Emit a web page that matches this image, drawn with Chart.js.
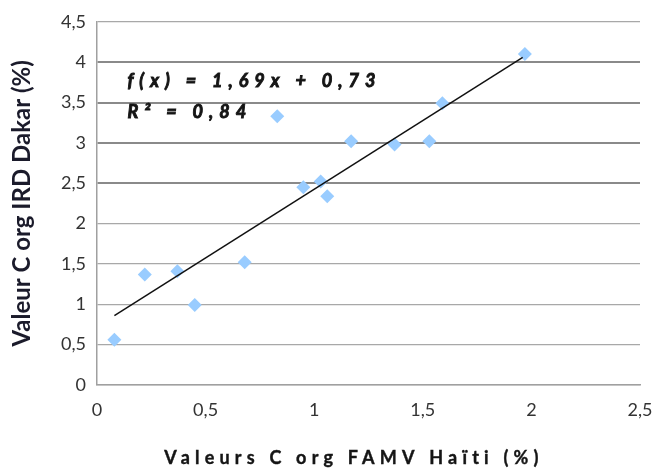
<!DOCTYPE html>
<html lang="fr">
<head>
<meta charset="utf-8">
<title>Valeurs C org FAMV Haïti / IRD Dakar</title>
<script src="https://cdn.jsdelivr.net/npm/chart.js"></script>
<style>
	body { margin: 0; background: #fff; }
</style>
</head>
<body>
<canvas id="chart" width="654" height="470"></canvas>
<script>
// values
const xValues = [0.08, 0.22, 0.37, 0.45, 0.68, 0.83, 0.95, 1.03, 1.06, 1.17, 1.37, 1.53, 1.59, 1.97];
const yValues = [0.56, 1.37, 1.41, 0.99, 1.52, 3.33, 2.45, 2.52, 2.34, 3.02, 2.98, 3.02, 3.49, 4.10];
// trend line ends, as drawn
const trendX = [0.08, 1.96];
const trendY = [0.86, 4.06];
const xTicks = [0, 0.5, 1, 1.5, 2, 2.5];
const yTicks = [0, 0.5, 1, 1.5, 2, 2.5, 3, 3.5, 4, 4.5];
const equationLines = ["f(x) = 1,69x + 0,73", "R² = 0,84"];
const xTitle = "Valeurs C org FAMV Haïti (%)";
const yTitle = "Valeur C org IRD Dakar (%)";

const comma = v => String(v).replace(".", ",");

const textPlugin = {
	id: "texts",
	afterDraw(chart) {
		const ctx = chart.ctx, xs = chart.scales.x, ys = chart.scales.y;
		ctx.save();
		ctx.fillStyle = "#151515";
		ctx.strokeStyle = "#151515";
		ctx.lineWidth = 0.9;
		ctx.textBaseline = "middle";
		ctx.textAlign = "left";
		ctx.letterSpacing = "6px";
		ctx.font = "italic bold 18px Lato";
		// equation of the trend line, a little heavier like the original
		equationLines.forEach((line, i) => {
			const px = xs.getPixelForValue(0.14);
			const py = ys.getPixelForValue(i == 0 ? 3.77 : 3.38);
			ctx.fillText(line, px, py);
			ctx.strokeText(line, px, py);
		});
		ctx.letterSpacing = "5.2px";
		ctx.font = "bold 18px Lato";
		ctx.textAlign = "center";
		ctx.lineWidth = 0.4;
		ctx.fillText(xTitle, 354, 458);
		ctx.strokeText(xTitle, 354, 458);
		ctx.restore();
	}
};

new Chart(document.getElementById("chart"), {
	type: "scatter",
	data: {
		datasets: [{
			label: "Mesures",
			data: xValues.map((x, i) => ({ x: x, y: yValues[i] })),
			pointStyle: "rectRot",
			pointRadius: 7,
			backgroundColor: "#99ccff",
			borderWidth: 0,
			order: 1
		}, {
			type: "line",
			label: "Tendance",
			data: trendX.map((x, i) => ({ x: x, y: trendY[i] })),
			borderColor: "#111",
			borderWidth: 1.5,
			pointRadius: 0,
			order: 0
		}]
	},
	options: {
		responsive: false,
		animation: false,
		layout: { padding: { top: 21, right: 14, left: 0, bottom: 0 } },
		plugins: {
			legend: { display: false },
			tooltip: { enabled: false }
		},
		scales: {
			x: {
				type: "linear",
				min: 0,
				max: 2.5,
				afterBuildTicks: s => { s.ticks = xTicks.map(v => ({ value: v })); },
				afterFit: s => { s.height = 85; s.paddingLeft = 0; s.paddingRight = 0; },
				grid: { display: false, drawTicks: false },
				border: { color: "#a0a0a0", width: 1.5 },
				ticks: {
					font: { family: "Lato", size: 18 },
					color: "#333",
					padding: 14,
					maxRotation: 0,
					callback: comma
				}
			},
			y: {
				min: 0,
				max: 4.5,
				afterBuildTicks: s => { s.ticks = yTicks.map(v => ({ value: v })); },
				afterFit: s => { s.width = 97; },
				grid: {
					drawTicks: false,
					color: c => (c.tick && c.tick.value >= 2.5 && c.tick.value <= 4) ? "#8a8a8a" : "#a8a8a8",
					lineWidth: c => (c.tick && c.tick.value >= 2.5 && c.tick.value <= 4) ? 2 : 1.2
				},
				border: { color: "#a0a0a0", width: 1.5 },
				ticks: {
					font: { family: "Lato", size: 18 },
					color: "#333",
					padding: 11,
					callback: comma
				},
				title: {
					display: true,
					text: yTitle,
					color: "#1b1b2b",
					font: { family: "Lato", size: 24, weight: "bold" },
					padding: { top: 8, bottom: 0 }
				}
			}
		}
	},
	plugins: [textPlugin]
});
</script>
</body>
</html>
